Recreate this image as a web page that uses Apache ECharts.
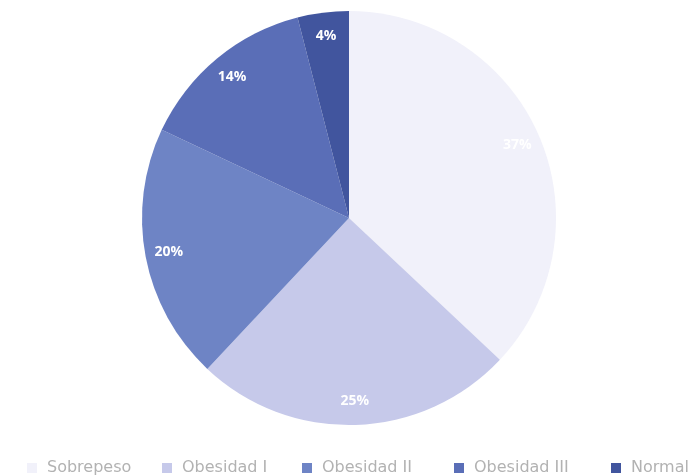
<!DOCTYPE html>
<html>
<head>
<meta charset="utf-8">
<script src="https://cdn.jsdelivr.net/npm/echarts@6/dist/echarts.min.js"></script>
<style>
  html, body { margin: 0; padding: 0; background: #ffffff; }
  #chart { width: 698px; height: 476px; }
</style>
</head>
<body>
<div id="chart"></div>
<script>
// Distribución por categoría de IMC (porcentaje)
const categories = ['Sobrepeso', 'Obesidad I', 'Obesidad II', 'Obesidad III', 'Normal'];
const values = [37, 25, 20, 14, 4];
const colors = ['#f1f1fa', '#c6c9ea', '#6e84c5', '#5a6eb7', '#41559e'];

// horizontal start of each legend entry along the bottom row
const legendLeft = [22, 157, 297, 449, 606];

const pieData = categories.map((name, i) => ({
  name: name,
  value: values[i],
  itemStyle: { color: colors[i] }
}));

const labelData = categories.map((name, i) => ({
  name: name,
  value: values[i]
}));

const legends = categories.map((name, i) => ({
  data: [name],
  left: legendLeft[i],
  top: 455,
  itemWidth: 10,
  itemHeight: 10,
  itemGap: 0,
  icon: 'rect',
  selectedMode: false,
  textStyle: {
    color: '#b2b2b2',
    fontSize: 16,
    fontFamily: 'DejaVu Sans',
    padding: [0, 0, 0, 5]
  }
}));

const chart = echarts.init(document.getElementById('chart'), null, { renderer: 'canvas' });

chart.setOption({
  animation: false,
  backgroundColor: '#ffffff',
  legend: legends,
  series: [
    {
      type: 'pie',
      center: [349, 218],
      radius: [0, 207],
      startAngle: 90,
      clockwise: true,
      silent: true,
      label: { show: false },
      labelLine: { show: false },
      data: pieData
    },
    {
      // ring carrying the percentage labels near the outer edge
      type: 'pie',
      center: [349, 218],
      radius: [154, 207],
      startAngle: 90,
      clockwise: true,
      silent: true,
      itemStyle: { color: 'rgba(0,0,0,0)' },
      label: {
        show: true,
        position: 'inside',
        formatter: '{c}%',
        color: '#ffffff',
        fontSize: 14,
        fontWeight: 'bold',
        fontFamily: 'Open Sans'
      },
      labelLine: { show: false },
      data: labelData
    }
  ]
});
</script>
</body>
</html>
